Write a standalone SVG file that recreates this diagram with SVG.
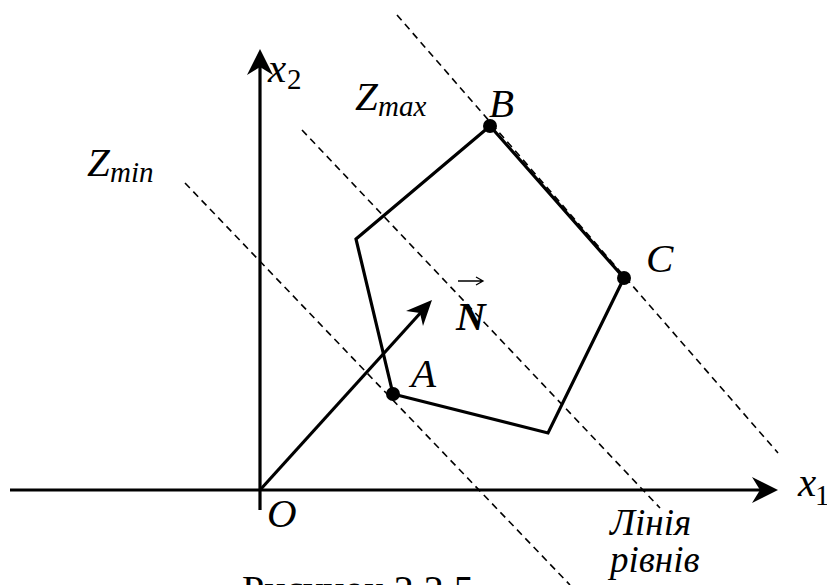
<svg xmlns="http://www.w3.org/2000/svg" width="827" height="585" viewBox="0 0 827 585">
<style>
.i{font-style:italic}
.lbl{font-size:41px}
.sub{font-size:29px}
.dash{stroke:#000;stroke-width:1.6;stroke-dasharray:7,5;fill:none}
.solid{stroke:#000;stroke-width:3.2;fill:none;stroke-linejoin:miter}
</style>
<rect width="827" height="585" fill="#fff"/>
<g id="levels">
<line class="dash" x1="185" y1="183" x2="570" y2="585"/>
<line class="dash" x1="302" y1="130" x2="660" y2="508"/>
<line class="dash" x1="397" y1="15" x2="778" y2="453"/>
</g>
<g id="axes">
<line class="solid" x1="10" y1="490" x2="765" y2="490"/>
<path d="M778,490 L752,477 L760,490 L752,503 Z" fill="#000"/>
<line class="solid" x1="260" y1="510" x2="260" y2="62"/>
<path d="M260,49 L247,75 L260,67 L273,75 Z" fill="#000"/>
</g>
<g id="polygon">
<polygon class="solid" points="356,239 490,126 624,278 548,433 393,394"/>
<circle cx="490" cy="126" r="7"/>
<circle cx="624" cy="278" r="7"/>
<circle cx="393" cy="394" r="7"/>
</g>
<g id="vectorN">
<line class="solid" x1="260" y1="490" x2="424" y2="309"/>
<path d="M432,300 L406,311 L420,313 L423,326 Z" fill="#000"/>
</g>
<g id="labels" font-family="Liberation Serif, Times New Roman, serif" fill="#000">
<text class="i lbl" x="268" y="82">x</text><text class="sub" x="287" y="89">2</text>
<text class="i lbl" x="798" y="496">x</text><text class="sub" x="815" y="505">1</text>
<text class="i lbl" x="267" y="527">O</text>
<text class="i lbl" x="355" y="110">Z</text><text class="i sub" x="378" y="116">max</text>
<text class="i lbl" x="87" y="176">Z</text><text class="i sub" x="110" y="182">min</text>
<text class="i lbl" x="489" y="117">B</text>
<text class="i lbl" x="646" y="272">C</text>
<text class="i lbl" x="411" y="387">A</text>
<text class="i lbl" x="456" y="330" font-weight="bold">N</text>
<path d="M458,281 L482,281 M476,277 L483,281 L476,285" stroke="#000" stroke-width="1.3" fill="none"/>
<text class="i" font-size="37" x="610" y="535">Лінія</text>
<text class="i" font-size="37" x="610" y="572">рівнів</text>
<text font-size="40" x="242" y="603">Рисунок 2.2.5</text>
</g>
</svg>
